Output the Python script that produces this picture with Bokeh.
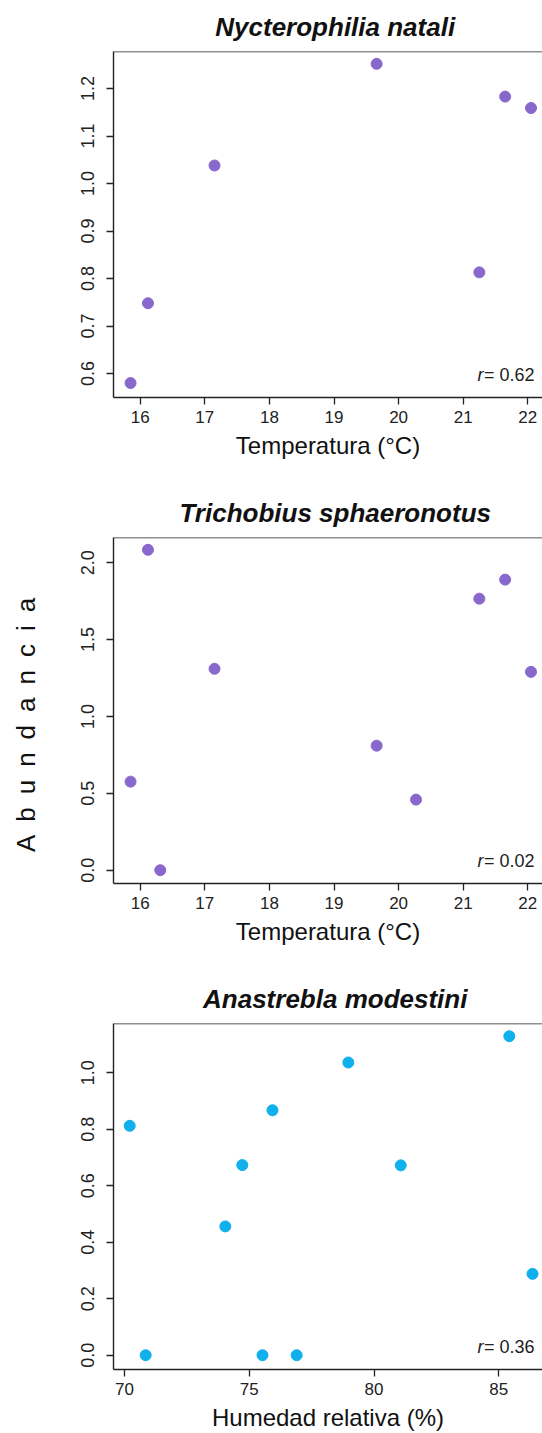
from bokeh.plotting import figure
from bokeh.models import Range1d, FixedTicker, PrintfTickFormatter, Span
from bokeh.layouts import column
from bokeh.core.properties import value
from bokeh.embed import file_html
from bokeh.resources import INLINE

# ---- data ----
titles = ["Nycterophilia natali", "Trichobius sphaeronotus", "Anastrebla modestini"]

temp_nn = [15.85, 16.12, 17.15, 19.66, 21.25, 21.65, 22.05]
abund_nn = [0.58, 0.748, 1.038, 1.252, 0.813, 1.183, 1.159]

temp_ts = [15.85, 16.12, 16.31, 17.15, 19.66, 20.27, 21.25, 21.65, 22.05]
abund_ts = [0.576, 2.084, 0.0, 1.31, 0.81, 0.459, 1.766, 1.89, 1.29]

hum_am = [70.21, 70.85, 74.04, 74.72, 75.53, 75.93, 76.90, 78.97, 81.07, 85.42, 86.35]
abund_am = [0.812, 0.0, 0.456, 0.673, 0.0, 0.867, 0.0, 1.036, 0.672, 1.129, 0.288]

r_values = ["0.62", "0.02", "0.36"]

temp_ticks = [16, 17, 18, 19, 20, 21, 22]
hum_ticks = [70, 75, 80, 85]
yticks_nn = [0.6, 0.7, 0.8, 0.9, 1.0, 1.1, 1.2]
yticks_ts = [0.0, 0.5, 1.0, 1.5, 2.0]
yticks_am = [0.0, 0.2, 0.4, 0.6, 0.8, 1.0]

x_label_temp = "Temperatura (°C)"
x_label_hum = "Humedad relativa (%)"
y_label = "\u2002".join("Abundancia") + "\u00a0" * 4

PURPLE = "#8968CD"
BLUE = "#0FB0EC"
INK = "#222222"
FONT = "Liberation Sans"


def panel(title, xs, ys, color, xr, yr, xticks, yticks, xlabel, rval,
          height, bottom, ylab=None):
    p = figure(width=542, height=height,
               x_range=Range1d(*xr), y_range=Range1d(*yr),
               output_backend="svg", toolbar_location=None,
               min_border_left=113, min_border_right=0,
               min_border_top=50, min_border_bottom=bottom)
    p.title.text = "\u00a0\u00a0" + title
    p.title.align = "center"
    p.title.standoff = 19
    p.title.text_font = FONT
    p.title.text_font_size = "26px"
    p.title.text_font_style = "bold italic"
    p.title.text_color = "#111111"

    p.xgrid.visible = False
    p.ygrid.visible = False
    p.outline_line_color = None
    p.background_fill_color = "white"
    p.border_fill_color = "white"

    top = Span(location=yr[1], dimension="width", line_color=INK, line_width=1.4)
    p.add_layout(top)

    p.xaxis.ticker = FixedTicker(ticks=xticks)
    p.yaxis.ticker = FixedTicker(ticks=yticks)
    p.yaxis.formatter = PrintfTickFormatter(format="%.1f")
    p.xaxis.formatter = PrintfTickFormatter(format="%d")
    for ax in (p.xaxis[0], p.yaxis[0]):
        ax.axis_line_color = INK
        ax.axis_line_width = 1.4
        ax.major_tick_line_color = INK
        ax.major_tick_line_width = 1.3
        ax.major_tick_out = 7
        ax.major_tick_in = 0
        ax.minor_tick_line_color = None
        ax.major_label_text_font = FONT
        ax.major_label_text_color = INK
        ax.axis_label_text_font = FONT
        ax.axis_label_text_font_style = "normal"
        ax.axis_label_text_color = "#111111"
    p.xaxis.major_label_text_font_size = "17px"
    p.xaxis.major_label_standoff = 6
    p.xaxis.axis_label = xlabel
    p.xaxis.axis_label_text_font_size = "24px"
    p.xaxis.axis_label_standoff = 6
    p.yaxis.major_label_text_font_size = "18px"
    p.yaxis.major_label_orientation = "vertical"
    p.yaxis.major_label_standoff = 12
    if ylab:
        p.yaxis.axis_label = ylab
        p.yaxis.axis_label_text_font_size = "26px"
        p.yaxis.axis_label_standoff = 38

    p.scatter(xs, ys, size=11, fill_color=color, line_color=color)

    p.text(x=[xr[1]], y=[yr[0]], text=["= " + rval], text_align="right",
           text_baseline="middle", x_offset=-8, y_offset=-23,
           text_font=value(FONT), text_font_size="18px", text_color=INK)
    p.text(x=[xr[1]], y=[yr[0]], text=["r"], text_align="right",
           text_baseline="middle", x_offset=-59, y_offset=-23,
           text_font=value(FONT), text_font_size="18px",
           text_font_style="italic", text_color=INK)
    return p


p1 = panel(titles[0], temp_nn, abund_nn, PURPLE, (15.586, 22.228), (0.5495, 1.278),
           temp_ticks, yticks_nn, x_label_temp, r_values[0], 486, 89)
p2 = panel(titles[1], temp_ts, abund_ts, PURPLE, (15.586, 22.228), (-0.0866, 2.164),
           temp_ticks, yticks_ts, x_label_temp, r_values[1], 486, 89, ylab=y_label)
p3 = panel(titles[2], hum_am, abund_am, BLUE, (69.56, 86.75), (-0.0505, 1.174),
           hum_ticks, yticks_am, x_label_hum, r_values[2], 461, 64)

layout = column(p1, p2, p3, spacing=0)
open("out.html", "w").write(file_html(layout, INLINE))
